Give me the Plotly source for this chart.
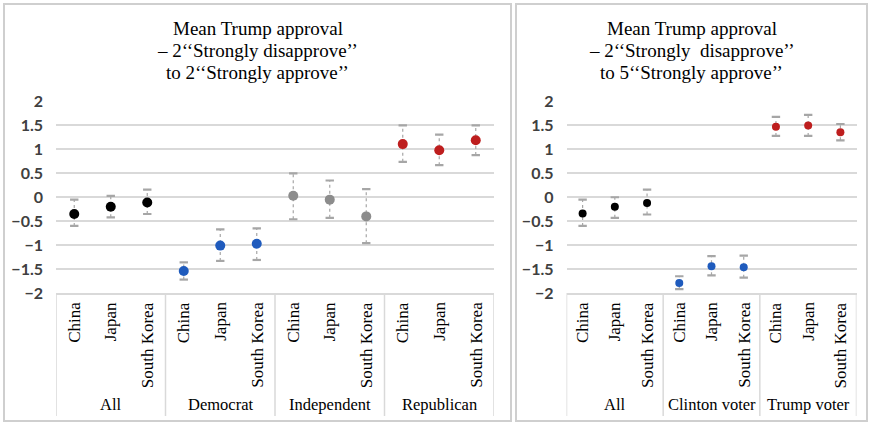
import plotly.graph_objects as go

W, H = 870, 423

# ---- data ----
countries = ["China", "Japan", "South Korea"]

left_groups = ["All", "Democrat", "Independent", "Republican"]
left_mean = [
    [-0.35, -0.20, -0.11],
    [-1.54, -1.01, -0.97],
    [0.03, -0.05, -0.40],
    [1.11, 0.98, 1.19],
]
left_low = [
    [-0.60, -0.42, -0.35],
    [-1.72, -1.33, -1.31],
    [-0.46, -0.43, -0.96],
    [0.74, 0.67, 0.88],
]
left_high = [
    [-0.05, 0.03, 0.16],
    [-1.36, -0.67, -0.65],
    [0.50, 0.35, 0.17],
    [1.50, 1.31, 1.50],
]
left_colors = ["#000000", "#1f5bbd", "#8c8c8c", "#be1e1e"]

right_groups = ["All", "Clinton voter", "Trump voter"]
right_mean = [
    [-0.34, -0.20, -0.12],
    [-1.79, -1.44, -1.46],
    [1.47, 1.50, 1.36],
]
right_low = [
    [-0.60, -0.43, -0.36],
    [-1.92, -1.63, -1.68],
    [1.28, 1.28, 1.19],
]
right_high = [
    [-0.05, 0.00, 0.16],
    [-1.65, -1.23, -1.22],
    [1.68, 1.72, 1.53],
]
right_colors = ["#000000", "#1f5bbd", "#be1e1e"]

left_title = ["Mean Trump approval", "– 2‘‘Strongly disapprove’’", "to 2‘‘Strongly approve’’"]
right_title = ["Mean Trump approval", "– 2‘‘Strongly  disapprove’’", "to 5‘‘Strongly approve’’"]

y_ticks = [2, 1.5, 1, 0.5, 0, -0.5, -1, -1.5, -2]


def px_x(p):
    return p / W


def px_y(p):
    return 1 - p / H


GRID = "#d9d9d9"
ERR = "#a6a6a6"
SERIF = "Liberation Serif"

fig = go.Figure()
annotations = []
shapes = []


def add_panel(xa, ya, groups, means, lows, highs, colors, msize, title, panel_x0, panel_x1):
    n = len(countries)
    for g, grp in enumerate(groups):
        xs = [g * n + i for i in range(n)]
        # dashed whiskers
        lx, ly = [], []
        for i, x in enumerate(xs):
            lx += [x, x, None]
            ly += [lows[g][i], highs[g][i], None]
        fig.add_trace(go.Scatter(
            x=lx, y=ly, mode="lines", xaxis=xa, yaxis=ya,
            line=dict(color=ERR, width=1.2, dash="3px,3px"),
            hoverinfo="skip", showlegend=False))
        # whisker caps
        fig.add_trace(go.Scatter(
            x=xs + xs, y=lows[g] + highs[g], mode="markers", xaxis=xa, yaxis=ya,
            marker=dict(symbol="line-ew", size=6, line=dict(color=ERR, width=2.2)),
            hoverinfo="skip", showlegend=False))
        # means
        fig.add_trace(go.Scatter(
            x=xs, y=means[g], mode="markers", xaxis=xa, yaxis=ya, name=grp,
            marker=dict(color=colors[g], size=msize),
            showlegend=False))
        # group label
        annotations.append(dict(
            x=g * n + (n - 1) / 2, xref=xa, y=px_y(404), yref="paper",
            text=grp, showarrow=False, yanchor="middle", xanchor="center",
            font=dict(family=SERIF, size=16.5, color="#000000")))
        for i, x in enumerate(xs):
            annotations.append(dict(
                x=x, xref=xa, y=px_y(300), yref="paper", text=countries[i],
                textangle=-90, showarrow=False, yanchor="top", xanchor="center",
                font=dict(family=SERIF, size=17, color="#000000")))
    # category dividers
    for b in range(len(groups) + 1):
        xb = b * n - 0.5
        shapes.append(dict(type="line", xref=xa, yref="paper", x0=xb, x1=xb,
                           y0=px_y(293), y1=px_y(416),
                           line=dict(color=GRID, width=1.5)))
    # panel frame
    shapes.append(dict(type="rect", xref="paper", yref="paper",
                       x0=px_x(panel_x0), x1=px_x(panel_x1),
                       y0=px_y(421), y1=px_y(4),
                       line=dict(color="#cfcfcf", width=2)))
    # three-line title, one annotation per line for tight leading
    for k, line in enumerate(title):
        annotations.append(dict(
            x=px_x((panel_x0 + panel_x1) / 2), xref="paper",
            y=px_y(29 + 21.5 * k), yref="paper",
            text=line, showarrow=False, yanchor="middle", xanchor="center",
            font=dict(family=SERIF, size=19, color="#000000")))


add_panel("x", "y", left_groups, left_mean, left_low, left_high, left_colors, 10,
          left_title, 4, 511)
add_panel("x2", "y2", right_groups, right_mean, right_low, right_high, right_colors, 8,
          right_title, 516, 867)

yaxis_common = dict(
    range=[-2, 2], tickvals=y_ticks, showgrid=True, gridcolor=GRID, gridwidth=1.5,
    zeroline=False, showline=False, ticks="", ticklabelstandoff=12, automargin=False,
    tickfont=dict(family="Lato", size=16, color="#404040", weight="bold"),
    domain=[px_y(293), px_y(101.5)],
)
xaxis_common = dict(
    showgrid=False, zeroline=False, showticklabels=False, ticks="", automargin=False,
    showline=True, linecolor=GRID, linewidth=1.5,
)

fig.update_layout(
    width=W, height=H, margin=dict(l=0, r=0, t=0, b=0, pad=0, autoexpand=False),
    paper_bgcolor="#ffffff", plot_bgcolor="#ffffff",
    xaxis=dict(xaxis_common, domain=[px_x(56), px_x(494)], range=[-0.5, 11.5]),
    yaxis=dict(yaxis_common, anchor="x"),
    xaxis2=dict(xaxis_common, domain=[px_x(566.5), px_x(856.5)], range=[-0.5, 8.5],
                anchor="y2"),
    yaxis2=dict(yaxis_common, anchor="x2"),
    annotations=annotations,
    shapes=shapes,
)

fig.write_html("out.html")
